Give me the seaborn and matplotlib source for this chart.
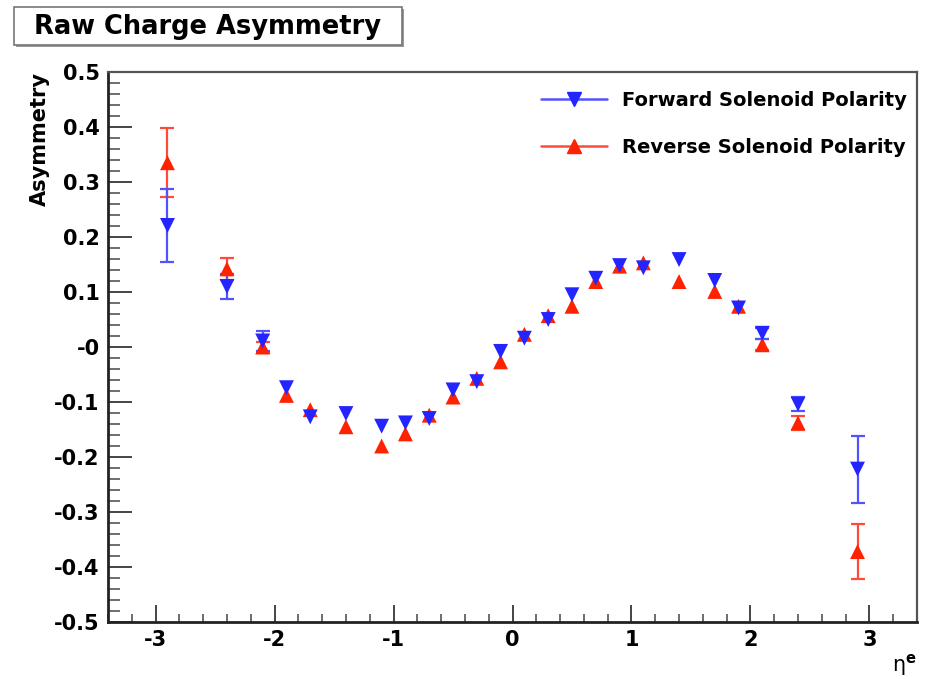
import matplotlib
matplotlib.use("Agg")
import matplotlib.pyplot as plt
from matplotlib.lines import Line2D
from matplotlib.patches import Rectangle
import seaborn as sns
import pandas as pd

# ---- data ----
eta = [-2.9, -2.4, -2.1, -1.9, -1.7, -1.4, -1.1, -0.9, -0.7, -0.5, -0.3, -0.1,
       0.1, 0.3, 0.5, 0.7, 0.9, 1.1, 1.4, 1.7, 1.9, 2.1, 2.4, 2.9]
forward = [0.221, 0.110, 0.011, -0.074, -0.127, -0.121, -0.144, -0.138, -0.130, -0.078,
           -0.063, -0.008, 0.016, 0.050, 0.095, 0.125, 0.148, 0.144, 0.159, 0.121,
           0.071, 0.025, -0.104, -0.222]
forward_err = [0.067, 0.022, 0.018, 0.005, 0.005, 0.005, 0.005, 0.004, 0.004, 0.004,
               0.004, 0.004, 0.004, 0.004, 0.004, 0.004, 0.004, 0.004, 0.005, 0.005,
               0.005, 0.010, 0.013, 0.061]
reverse = [0.335, 0.142, 0.000, -0.088, -0.114, -0.145, -0.180, -0.158, -0.124, -0.091,
           -0.057, -0.027, 0.023, 0.057, 0.074, 0.119, 0.147, 0.153, 0.119, 0.101,
           0.074, 0.004, -0.138, -0.372]
reverse_err = [0.063, 0.020, 0.010, 0.005, 0.005, 0.005, 0.005, 0.004, 0.004, 0.004,
               0.004, 0.004, 0.004, 0.004, 0.004, 0.004, 0.004, 0.004, 0.005, 0.005,
               0.005, 0.010, 0.013, 0.050]
series_names = ["Forward Solenoid Polarity", "Reverse Solenoid Polarity"]
x_ticks = [-3, -2, -1, 0, 1, 2, 3]
x_ticklabels = ["-3", "-2", "-1", "0", "1", "2", "3"]
y_ticks = [-0.5, -0.4, -0.3, -0.2, -0.1, 0.0, 0.1, 0.2, 0.3, 0.4, 0.5]
y_ticklabels = ["-0.5", "-0.4", "-0.3", "-0.2", "-0.1", "-0", "0.1", "0.2", "0.3", "0.4", "0.5"]
title = "Raw Charge Asymmetry"
y_label = "Asymmetry"
x_label = r"η$^{\mathrm{e}}$"

sns.set_style("ticks")
plt.rcParams["font.family"] = ["DejaVu Sans"]
plt.rcParams["font.weight"] = "bold"
plt.rcParams["text.color"] = "black"
plt.rcParams["axes.labelcolor"] = "black"
plt.rcParams["xtick.labelcolor"] = "black"
plt.rcParams["ytick.labelcolor"] = "black"

df_f = pd.DataFrame({"eta": eta, "asym": forward, "err": forward_err, "pol": series_names[0]})
df_r = pd.DataFrame({"eta": eta, "asym": reverse, "err": reverse_err, "pol": series_names[1]})

BLUE_M, BLUE_E = "#2424ff", "#5252ff"
RED_M, RED_E = "#ff2200", "#ff4a3a"

fig = plt.figure(figsize=(9.28, 6.79), dpi=100)
ax = fig.add_axes([108 / 928, 1 - 622 / 679, (917 - 108) / 928, (622 - 72) / 679])

# error bars smaller than the marker are hidden behind it in the reference
VIS = 0.009
er = df_r[df_r["err"] >= VIS]
ef = df_f[df_f["err"] >= VIS]
ax.errorbar(er["eta"], er["asym"], yerr=er["err"], fmt="none", ecolor=RED_E,
            elinewidth=1.6, capsize=5, capthick=1.6, zorder=2)
ax.errorbar(ef["eta"], ef["asym"], yerr=ef["err"], fmt="none", ecolor=BLUE_E,
            elinewidth=1.6, capsize=5, capthick=1.6, zorder=2.5)
sns.scatterplot(data=df_r, x="eta", y="asym", marker="^", color=RED_M, s=115,
                edgecolor="none", linewidth=0, ax=ax, zorder=3, legend=False)
sns.scatterplot(data=df_f, x="eta", y="asym", marker="v", color=BLUE_M, s=115,
                edgecolor="none", linewidth=0, ax=ax, zorder=5, legend=False)

ax.set_xlim(-3.4, 3.4)
ax.set_ylim(-0.5, 0.5)
ax.set_xticks(x_ticks)
ax.set_xticklabels(x_ticklabels)
ax.set_yticks(y_ticks)
ax.set_yticklabels(y_ticklabels)
ax.minorticks_on()
ax.xaxis.set_minor_locator(matplotlib.ticker.MultipleLocator(0.2))
ax.yaxis.set_minor_locator(matplotlib.ticker.MultipleLocator(0.02))
ax.tick_params(axis="x", which="major", direction="in", length=12, width=1.4,
               color="#444444", labelsize=15, pad=6, top=False)
ax.tick_params(axis="x", which="minor", direction="in", length=6, width=1.2,
               color="#555555", top=False)
ax.tick_params(axis="y", which="major", direction="in", length=17, width=1.4,
               color="#444444", labelsize=15, pad=6, right=False)
ax.tick_params(axis="y", which="minor", direction="in", length=8.5, width=1.2,
               color="#555555", right=False)
for lab in ax.get_xticklabels() + ax.get_yticklabels():
    lab.set_fontweight("bold")

for side in ["left", "bottom"]:
    ax.spines[side].set_color("#222222")
    ax.spines[side].set_linewidth(2.0)
for side in ["top", "right"]:
    ax.spines[side].set_color("#555555")
    ax.spines[side].set_linewidth(1.6)
    ax.spines[side].set_visible(True)

ax.set_ylabel(y_label, fontsize=15, fontweight="bold", loc="top")
ax.yaxis.set_label_coords(-0.072, 1.0)
ax.set_xlabel(x_label, fontsize=15, fontweight="normal", loc="right")
ax.xaxis.set_label_coords(1.0, -0.055)

handles = [
    Line2D([0], [0], color=BLUE_E, lw=1.8, marker="v", markersize=10,
           markerfacecolor=BLUE_M, markeredgecolor=BLUE_M),
    Line2D([0], [0], color=RED_E, lw=1.8, marker="^", markersize=10,
           markerfacecolor=RED_M, markeredgecolor=RED_M),
]
leg = ax.legend(handles, series_names, loc="upper left", bbox_to_anchor=(0.523, 0.983),
                frameon=False, borderpad=0, handlelength=3.4, handletextpad=0.8,
                labelspacing=1.45, prop={"size": 14, "weight": "bold"})

# title box
fig.patches.append(Rectangle((16 / 928, 1 - 47 / 679), 388 / 928, 38 / 679,
                             transform=fig.transFigure, facecolor="#999999",
                             edgecolor="none", zorder=0))
fig.patches.append(Rectangle((14 / 928, 1 - 45 / 679), 388 / 928, 38 / 679,
                             transform=fig.transFigure, facecolor="white",
                             edgecolor="#777777", linewidth=1.2, zorder=1))
fig.text(208 / 928, 1 - 27 / 679, title, ha="center", va="center", fontsize=18.5,
         fontweight="bold", color="black", zorder=2)

fig.savefig("out.png", dpi=100, facecolor="white")
